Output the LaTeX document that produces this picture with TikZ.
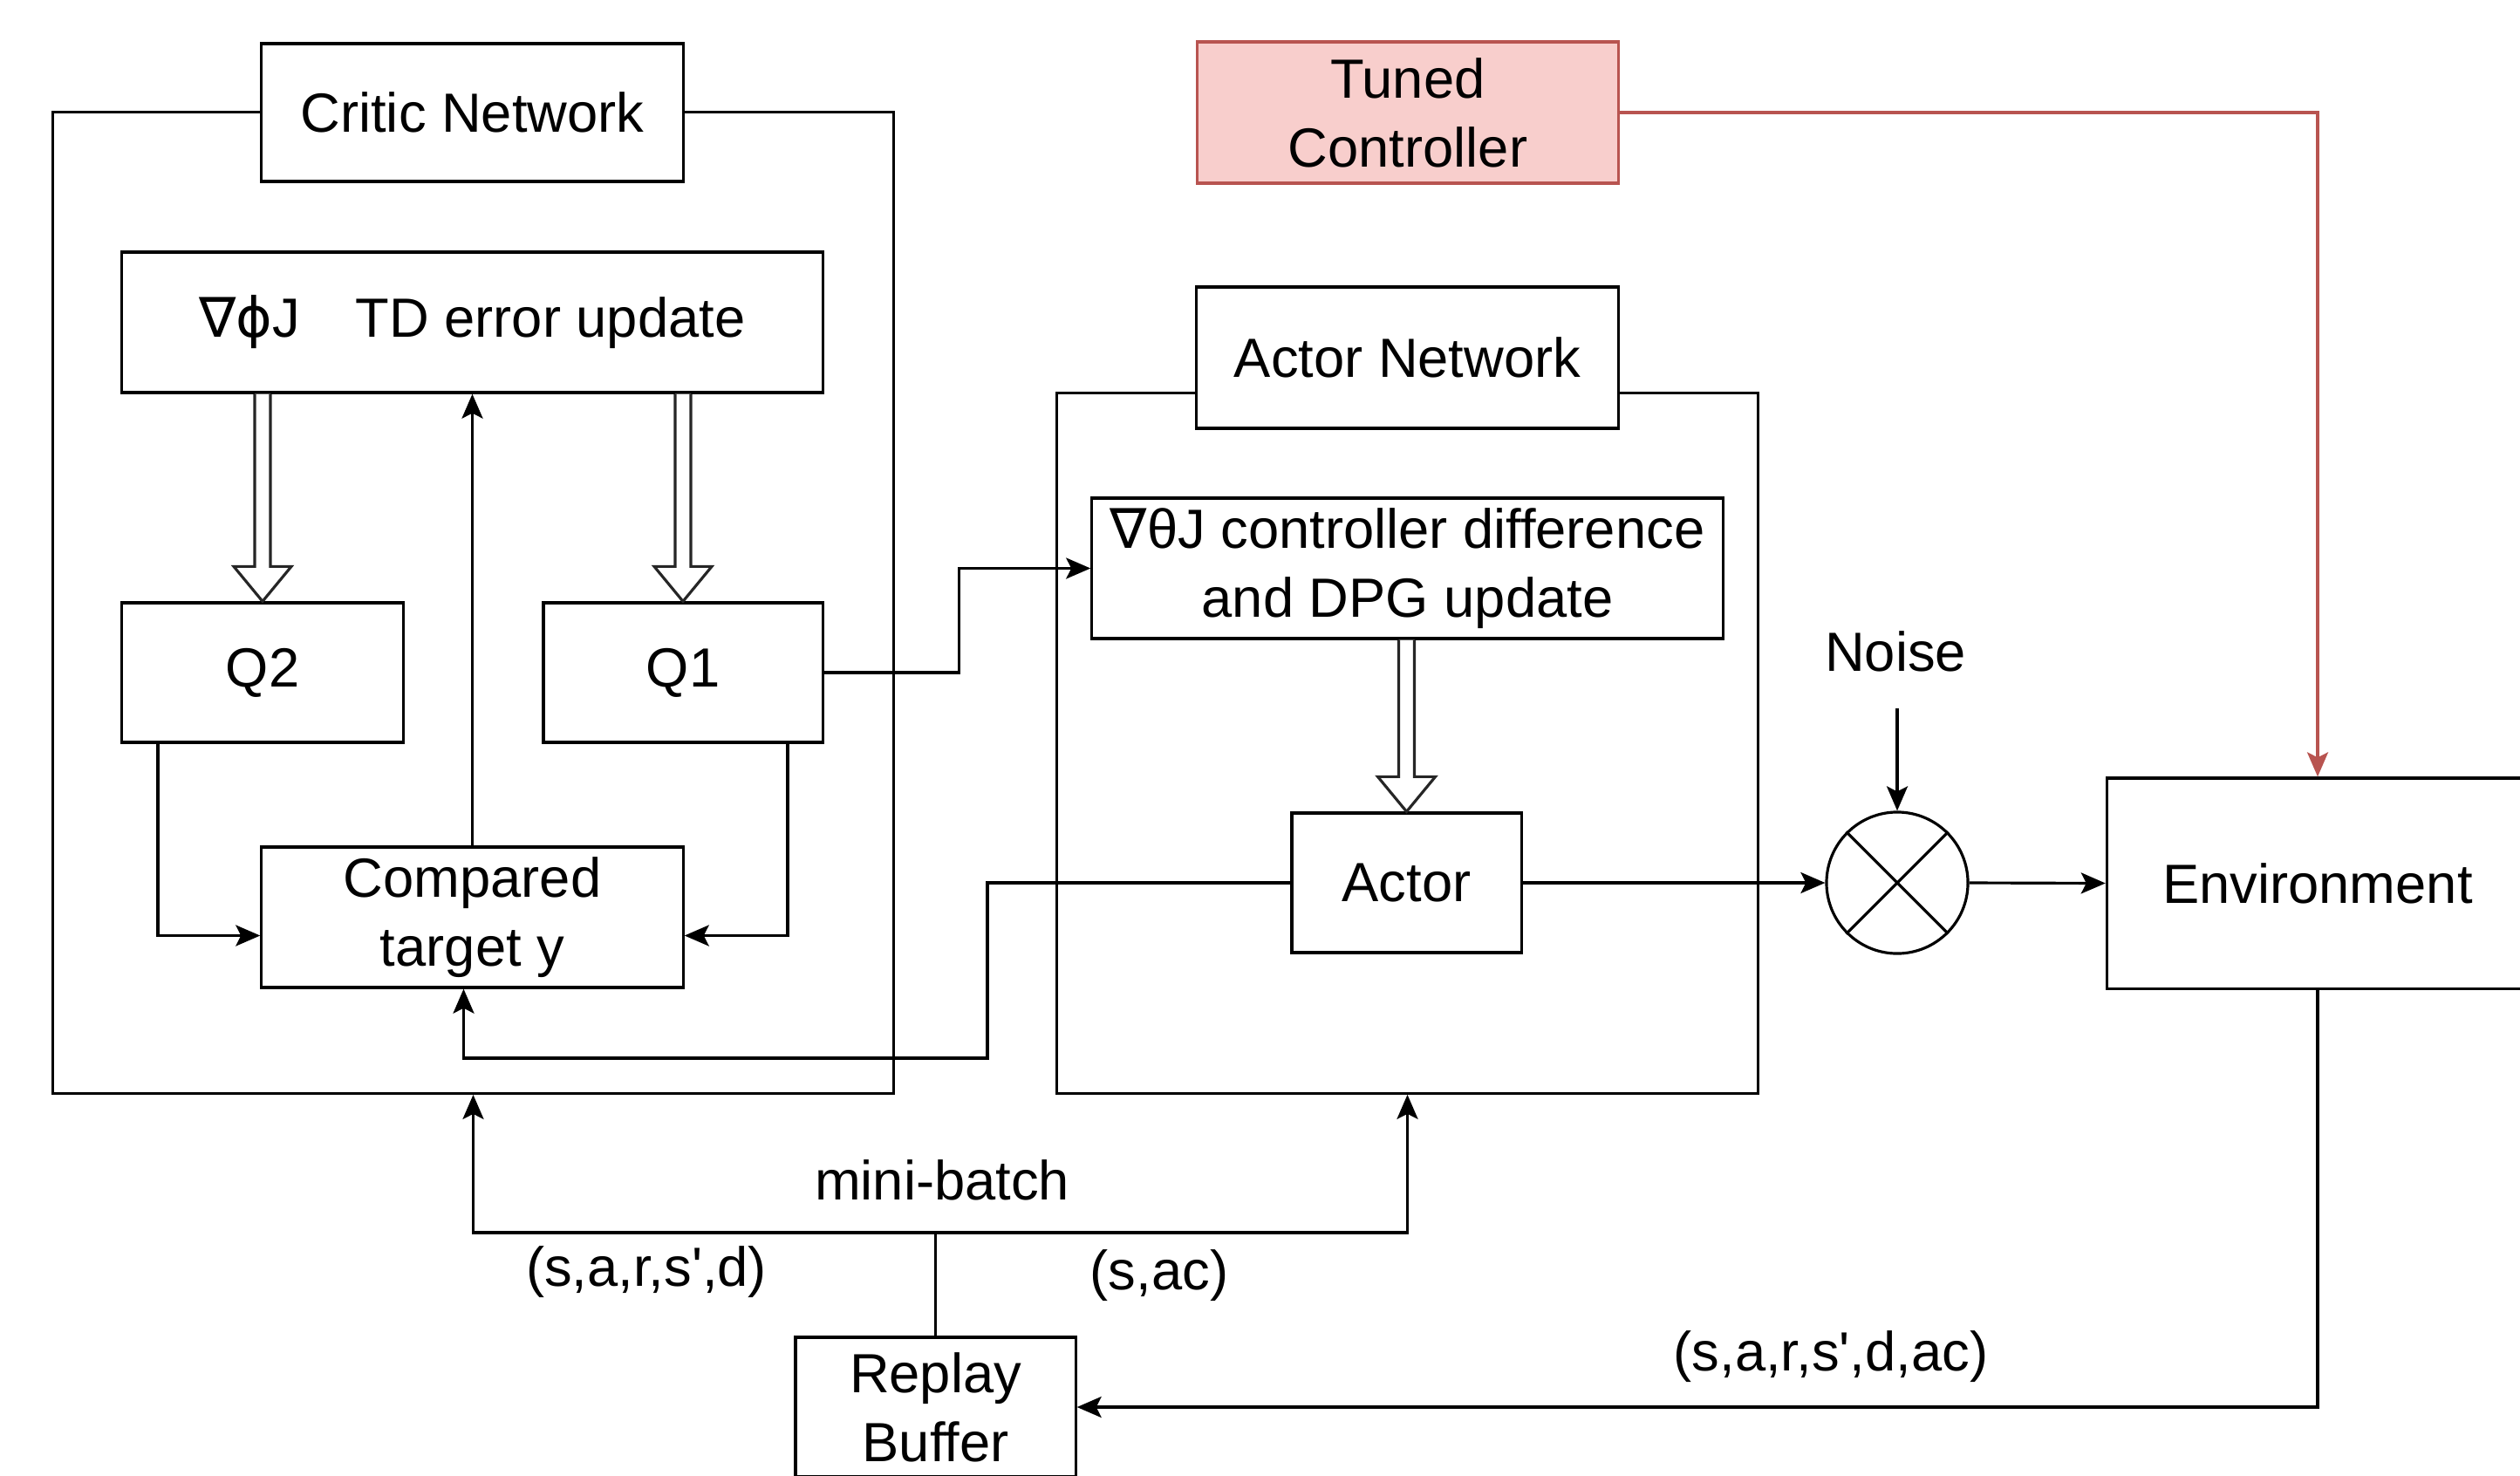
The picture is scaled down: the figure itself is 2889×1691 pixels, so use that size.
\documentclass[tikz,border=0pt]{standalone}
\usepackage{fontspec}
\newfontfamily\hv{Liberation Sans}
\newfontfamily\dv{DejaVu Sans}
\usetikzlibrary{arrows.meta,calc}
\definecolor{tcfill}{HTML}{F8CECC}
\definecolor{tcline}{HTML}{B85450}
\newcommand\hollowarrow[2]{%
  \draw[hollow] ($(#1)+(-9,0)$) -- ($(#2)+(-9,-40)$) -- ($(#2)+(-33,-40)$) -- (#2)
    -- ($(#2)+(33,-40)$) -- ($(#2)+(9,-40)$) -- ($(#1)+(9,0)$);}
\begin{document}
\begin{tikzpicture}[x=0.01cm,y=-0.01cm, line width=0.9pt,
  box/.style={draw, fill=white, inner sep=0pt, align=center, font=\hv\fontsize{18}{22.5}\selectfont},
  lbl/.style={inner sep=0pt, align=center, font=\hv\fontsize{18}{22.5}\selectfont},
  arr/.style={-{Stealth[length=0.28cm,width=0.24cm,inset=0.06cm]}},
  hollow/.style={draw=black!85, fill=white, line width=0.9pt, line join=miter}]
\useasboundingbox (0,0) rectangle (2889,1691);

% containers
\node[box, minimum width=9.63cm, minimum height=11.24cm] (critic) at (542.5,691) {};
\node[box, minimum width=8.03cm, minimum height=8.02cm] (actorbox) at (1613.5,852) {};

% critic part
\node[box, minimum width=4.83cm, minimum height=1.58cm] (cn) at (541.5,129) {Critic Network};
\node[box, minimum width=8.03cm, minimum height=1.61cm] (td) at (541.5,369.5) {{\dv ∇ϕ}J\hspace{1em}TD error update};
\node[box, minimum width=3.22cm, minimum height=1.60cm] (q2) at (301,771) {Q2};
\node[box, minimum width=3.20cm, minimum height=1.60cm] (q1) at (783,771) {Q1};
\node[box, minimum width=4.83cm, minimum height=1.61cm] (cmp) at (541.5,1051.5) {Compared\\target y};

% actor part
\node[box, minimum width=4.83cm, minimum height=1.62cm] (an) at (1613.5,410) {Actor Network};
\node[box, minimum width=7.23cm, minimum height=1.61cm] (dpg) at (1613.5,651.5) {{\dv ∇}θJ controller difference\\and DPG update};
\node[box, minimum width=2.63cm, minimum height=1.60cm] (actor) at (1612.5,1012) {Actor};

% others
\node[box, minimum width=4.82cm, minimum height=1.62cm, fill=tcfill, draw=tcline] (tc) at (1614,129) {Tuned\\Controller};
\node[box, circle, minimum size=1.62cm] (mix) at (2175,1012) {};
\draw (mix.north west) -- (mix.south east) (mix.north east) -- (mix.south west);
\node[lbl] (noise) at (2173,747) {Noise};
\coordinate (nz) at (2175,812);
\node[box, minimum width=4.83cm, minimum height=2.41cm] (env) at (2657,1012.5) {Environment};
\node[box, minimum width=3.21cm, minimum height=1.60cm] (rb) at (1072.5,1613) {Replay\\Buffer};

% hollow arrows
\hollowarrow{td.south -| q2.north}{q2.north}
\hollowarrow{td.south -| q1.north}{q1.north}
\hollowarrow{dpg.south -| actor.north}{actor.north}

% connectors
\draw[arr] (cmp.north) -- (td.south -| cmp.north);
\draw[arr] ($(q2.south)+(-120,0)$) |- ($(cmp.west)+(0,21)$);
\draw[arr] ($(q1.south)+(120,0)$) |- ($(cmp.east)+(0,21)$);
\draw[arr] (q1.east) -- ++(155,0) |- (dpg.west);
\draw[arr] (actor.west) -| (1132,1213) -| ($(cmp.south)+(-10,0)$);
\draw[arr] (actor.east) -- (mix.west);
\draw[arr] (mix.east) -- (env.west);
\draw[arr] (nz) -- (mix.north);
\draw[arr, draw=tcline] (tc.east) -| (env.north);
\draw[arr] (env.south) |- (rb.east);
\coordinate (mb) at (1072.5,1413);
\draw (rb.north) -- (mb);
\draw[arr] (mb) -| (critic.south);
\draw[arr] (mb) -| (actorbox.south);

% labels
\node[lbl] (mbl) at (1080,1353) {mini-batch};
\node[lbl] (l1) at (741,1458) {(s,a,r,s',d)};
\node[lbl] (l2) at (1329,1462) {(s,ac)};
\node[lbl] (l3) at (2099,1555) {(s,a,r,s',d,ac)};
\end{tikzpicture}
\end{document}
